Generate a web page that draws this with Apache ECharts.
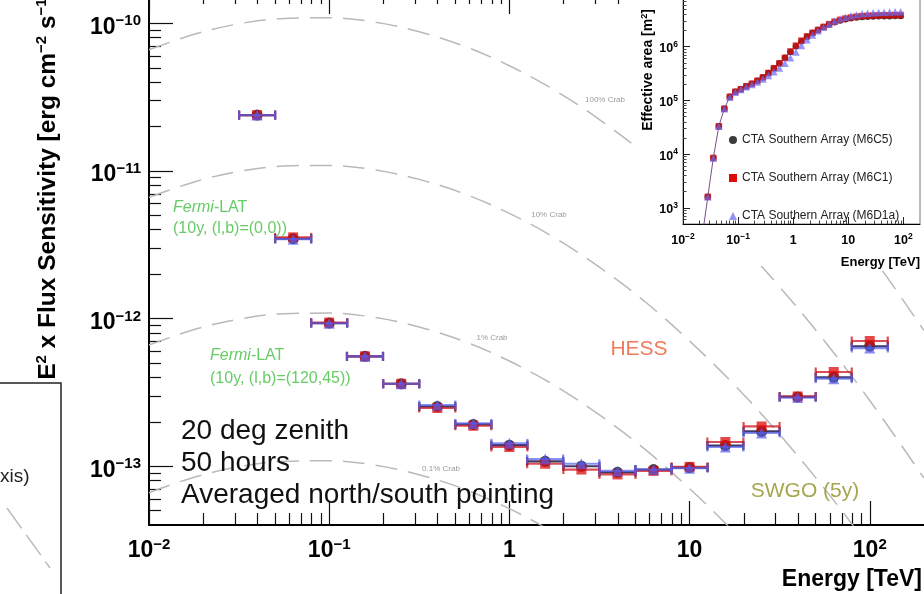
<!DOCTYPE html>
<html>
<head>
<meta charset="utf-8">
<script src="https://cdn.jsdelivr.net/npm/echarts@6/dist/echarts.min.js"></script>
<style>
  html, body { margin: 0; padding: 0; background: #fff; }
  #chart { width: 924px; height: 594px; }
</style>
</head>
<body>
<div id="chart"></div>
<script>
// ---------- Sensitivity curves (main panel) ----------
const sensEnergy = [0.0398, 0.0631, 0.1, 0.158, 0.251, 0.398, 0.631, 1.0, 1.58, 2.51, 3.98, 6.31, 10.0, 15.8, 25.1, 39.8, 63.1, 100];
const sensM6C5  = [2.39e-11, 3.48e-12, 9.33e-13, 5.55e-13, 3.62e-13, 2.54e-13, 1.92e-13, 1.39e-13, 1.08e-13, 1.0e-13, 9.1e-14, 9.5e-14, 9.8e-14, 1.38e-13, 1.72e-13, 2.95e-13, 4.0e-13, 6.5e-13];
const sensM6C1  = [2.39e-11, 3.55e-12, 9.4e-13, 5.55e-13, 3.62e-13, 2.48e-13, 1.88e-13, 1.35e-13, 1.04e-13, 9.5e-14, 8.8e-14, 9.3e-14, 9.9e-14, 1.46e-13, 1.86e-13, 2.97e-13, 4.35e-13, 7.05e-13];
const sensM6D1a = [2.39e-11, 3.45e-12, 9.3e-13, 5.55e-13, 3.62e-13, 2.6e-13, 1.95e-13, 1.43e-13, 1.12e-13, 1.04e-13, 9.3e-14, 9.5e-14, 9.7e-14, 1.35e-13, 1.68e-13, 2.92e-13, 3.92e-13, 6.32e-13];
const binHalfWidthDex = 0.1;

// Crab spectrum (E^2 dN/dE, erg cm^-2 s^-1) and the fractions drawn
const crabEnergy = [0.01, 0.0178, 0.0316, 0.0562, 0.1, 0.178, 0.316, 0.562, 1, 1.78, 3.16, 5.62, 10, 17.8, 31.6, 56.2, 100, 200];
const crabFlux   = [6.62e-11, 8.43e-11, 9.93e-11, 1.08e-10, 1.09e-10, 1.02e-10, 8.77e-11, 7.0e-11, 5.16e-11, 3.53e-11, 2.23e-11, 1.31e-11, 7.06e-12, 3.54e-12, 1.64e-12, 7.03e-13, 2.79e-13, 8.3e-14];
const crabFractions = [10, 1, 0.1, 0.01, 0.001];
const crabLabels = ['1000% Crab', '100% Crab', '10% Crab', '1% Crab', '0.1% Crab'];

// ---------- Effective area (inset) ----------
const aeffEnergy = [0.0224, 0.0282, 0.0355, 0.0447, 0.0562, 0.0708, 0.0891, 0.112, 0.141, 0.178, 0.224, 0.282, 0.355, 0.447, 0.562, 0.708, 0.891, 1.12, 1.41, 1.78, 2.24, 2.82, 3.55, 4.47, 5.62, 7.08, 8.91, 11.2, 14.1, 17.8, 22.4, 28.2, 35.5, 44.7, 56.2, 70.8, 89.1];
const aeffM6C5  = [300, 1.6e3, 8.5e3, 3.3e4, 7.0e4, 1.17e5, 1.45e5, 1.62e5, 1.84e5, 2.04e5, 2.32e5, 2.69e5, 3.24e5, 3.98e5, 4.9e5, 6.2e5, 8.0e5, 1.02e6, 1.27e6, 1.53e6, 1.8e6, 2.05e6, 2.34e6, 2.6e6, 2.86e6, 3.08e6, 3.26e6, 3.4e6, 3.5e6, 3.58e6, 3.62e6, 3.65e6, 3.68e6, 3.7e6, 3.71e6, 3.72e6, 3.73e6];
const aeffM6C1  = [300, 1.6e3, 8.5e3, 3.3e4, 7.0e4, 1.17e5, 1.45e5, 1.62e5, 1.84e5, 2.04e5, 2.32e5, 2.69e5, 3.24e5, 3.98e5, 4.9e5, 6.2e5, 8.2e5, 1.05e6, 1.3e6, 1.56e6, 1.82e6, 2.06e6, 2.34e6, 2.63e6, 2.92e6, 3.16e6, 3.35e6, 3.5e6, 3.63e6, 3.72e6, 3.76e6, 3.8e6, 3.83e6, 3.85e6, 3.86e6, 3.87e6, 3.89e6];
const aeffM6D1a = [300, 1.6e3, 8.5e3, 3.3e4, 7.0e4, 1.15e5, 1.42e5, 1.6e5, 1.8e5, 1.98e5, 2.2e5, 2.5e5, 2.9e5, 3.4e5, 4.0e5, 4.9e5, 6.2e5, 8.0e5, 1.05e6, 1.35e6, 1.65e6, 1.98e6, 2.3e6, 2.65e6, 3.0e6, 3.3e6, 3.55e6, 3.78e6, 3.95e6, 4.1e6, 4.2e6, 4.3e6, 4.35e6, 4.4e6, 4.45e6, 4.48e6, 4.5e6];

// ---------- Tick values ----------
const energyMajor = [0.01, 0.1, 1, 10, 100];
const energyMinor = [0.02,0.03,0.04,0.05,0.06,0.07,0.08,0.09, 0.2,0.3,0.4,0.5,0.6,0.7,0.8,0.9, 2,3,4,5,6,7,8,9, 20,30,40,50,60,70,80,90];
const fluxMajor = [1e-13, 1e-12, 1e-11, 1e-10];
const fluxMinor = [5e-14,6e-14,7e-14,8e-14,9e-14, 2e-13,3e-13,4e-13,5e-13,6e-13,7e-13,8e-13,9e-13, 2e-12,3e-12,4e-12,5e-12,6e-12,7e-12,8e-12,9e-12, 2e-11,3e-11,4e-11,5e-11,6e-11,7e-11,8e-11,9e-11];
const areaMajor = [1e3, 1e4, 1e5, 1e6];
const areaMinor = [600,700,800,900, 2e3,3e3,4e3,5e3,6e3,7e3,8e3,9e3, 2e4,3e4,4e4,5e4,6e4,7e4,8e4,9e4, 2e5,3e5,4e5,5e5,6e5,7e5,8e5,9e5, 2e6,3e6,4e6,5e6,6e6,7e6,8e6,9e6];

const FONT = '"Liberation Sans", Arial, Helvetica, sans-serif';
const NAMES = ['CTA Southern Array (M6C5)', 'CTA Southern Array (M6C1)', 'CTA Southern Array (M6D1a)'];

function powLabel(alwaysPow) {
  return function (v) {
    const e = Math.round(Math.log10(v));
    if (!alwaysPow && e === 0) return '{b|1}';
    if (!alwaysPow && e === 1) return '{b|10}';
    return '{b|10}{s|' + (e < 0 ? '\u2212' : '') + Math.abs(e) + '}';
  };
}
function richFor(base, sup) {
  return {
    b: { fontSize: base, fontWeight: 'bold', fontFamily: FONT, color: '#000', lineHeight: base + 4 },
    s: { fontSize: sup, fontWeight: 'bold', fontFamily: FONT, color: '#000', lineHeight: sup, padding: [0, 0, base + 4 - sup, 0] }
  };
}

function logAxis(o) {
  return Object.assign({
    type: 'log', logBase: 10, splitLine: { show: false }, axisPointer: { show: false }
  }, o);
}

const MAIN = { x: [0.01, 200], y: [4e-14, 1.63e-10] };
const INSET = { x: [0.01, 200], y: [500, 1e7] };

function tickAxis(grid, range, pos, values, len, color, z) {
  return logAxis({
    gridIndex: grid, min: range[0], max: range[1], position: pos, z: z || 0,
    axisLine: { show: false },
    axisTick: { show: true, inside: true, length: len, customValues: values, lineStyle: { color: color, width: grid === 0 ? 1.2 : 1 } },
    axisLabel: { show: false }
  });
}

const xAxes = [
  // main panel
  logAxis({ gridIndex: 0, min: MAIN.x[0], max: MAIN.x[1], position: 'bottom',
    axisLine: { lineStyle: { color: '#000', width: 2 } },
    axisTick: { inside: true, length: 24, customValues: energyMajor, lineStyle: { color: '#111', width: 1.2 } },
    axisLabel: { customValues: energyMajor, formatter: powLabel(false), rich: richFor(23, 15), margin: 12 } }),
  tickAxis(0, MAIN.x, 'bottom', energyMinor, 12, '#111'),
  logAxis({ gridIndex: 0, min: MAIN.x[0], max: MAIN.x[1], position: 'top',
    axisLine: { show: true, lineStyle: { color: '#000', width: 2 } },
    axisTick: { inside: true, length: 22, customValues: energyMajor, lineStyle: { color: '#111', width: 1.2 } },
    axisLabel: { show: false } }),
  tickAxis(0, MAIN.x, 'top', energyMinor, 12, '#111'),
  // inset
  logAxis({ gridIndex: 1, min: INSET.x[0], max: INSET.x[1], position: 'bottom', z: 10,
    axisLine: { lineStyle: { color: '#000', width: 1 } },
    axisTick: { inside: true, length: 7, customValues: energyMajor, lineStyle: { color: '#222', width: 1 } },
    axisLabel: { customValues: energyMajor, formatter: powLabel(false), rich: richFor(12.5, 8.5), margin: 8 } }),
  tickAxis(1, INSET.x, 'bottom', energyMinor, 3.5, '#444', 10),
  tickAxis(1, INSET.x, 'top', energyMajor, 7, '#777', 10),
  tickAxis(1, INSET.x, 'top', energyMinor, 3.5, '#999', 10)
];

const yAxes = [
  logAxis({ gridIndex: 0, min: MAIN.y[0], max: MAIN.y[1], position: 'left',
    axisLine: { lineStyle: { color: '#000', width: 2 } },
    axisTick: { inside: true, length: 24, customValues: fluxMajor, lineStyle: { color: '#111', width: 1.2 } },
    axisLabel: { customValues: fluxMajor, formatter: powLabel(true), rich: richFor(23, 15), margin: 8, padding: [8, 0, 0, 0] } }),
  tickAxis(0, MAIN.y, 'left', fluxMinor, 12, '#111'),
  logAxis({ gridIndex: 1, min: INSET.y[0], max: INSET.y[1], position: 'left', z: 10,
    axisLine: { lineStyle: { color: '#000', width: 1 } },
    axisTick: { inside: true, length: 7, customValues: areaMajor, lineStyle: { color: '#222', width: 1 } },
    axisLabel: { customValues: areaMajor, formatter: powLabel(true), rich: richFor(12.5, 8.5), margin: 5, padding: [4, 0, 0, 0] } }),
  tickAxis(1, INSET.y, 'left', areaMinor, 3.5, '#444', 10)
];

// horizontal error bars with end caps
function errorBarSeries(name, values, color, z) {
  return {
    name: name, type: 'custom', xAxisIndex: 0, yAxisIndex: 0, z: z, silent: true,
    data: sensEnergy.map((e, i) => [e, values[i]]),
    renderItem: function (params, api) {
      const e = api.value(0), f = api.value(1);
      const k = Math.pow(10, binHalfWidthDex);
      const a = api.coord([e / k, f]);
      const b = api.coord([e * k, f]);
      const st = { stroke: color, lineWidth: 2.2 };
      return { type: 'group', children: [
        { type: 'line', shape: { x1: a[0], y1: a[1], x2: b[0], y2: b[1] }, style: st },
        { type: 'line', shape: { x1: a[0], y1: a[1] - 4.5, x2: a[0], y2: a[1] + 4.5 }, style: st },
        { type: 'line', shape: { x1: b[0], y1: b[1] - 4.5, x2: b[0], y2: b[1] + 4.5 }, style: st }
      ] };
    }
  };
}
function markerSeries(name, values, symbol, size, color, opacity, z) {
  return {
    name: name, type: 'scatter', xAxisIndex: 0, yAxisIndex: 0, z: z, silent: true,
    symbol: symbol, symbolSize: size,
    itemStyle: { color: color, opacity: opacity },
    data: sensEnergy.map((e, i) => [e, values[i]])
  };
}

const crabSeries = crabFractions.map((frac, j) => ({
  name: crabLabels[j], type: 'line', xAxisIndex: 0, yAxisIndex: 0, z: 1, silent: true,
  showSymbol: false, smooth: 0.35, clip: true,
  lineStyle: { color: '#b9b9b9', width: 1.5, type: [22, 11] },
  data: crabEnergy.map((e, i) => [e, crabFlux[i] * frac])
}));

function aeffSeries(name, values, symbol, size, color, opacity, withLine) {
  return {
    name: name, type: 'line', xAxisIndex: 4, yAxisIndex: 2, z: 11, silent: true, clip: true,
    symbol: symbol, symbolSize: size, showSymbol: true,
    itemStyle: { color: color, opacity: opacity },
    lineStyle: withLine ? { color: '#7a4f8c', width: 1 } : { width: 0, opacity: 0 },
    data: aeffEnergy.map((e, i) => [e, values[i]])
  };
}

const series = [].concat(
  crabSeries,
  [
    errorBarSeries(NAMES[0], sensM6C5, 'rgba(40,35,90,0.9)', 3),
    markerSeries(NAMES[0], sensM6C5, 'circle', 11, '#3a3a3a', 1, 3),
    errorBarSeries(NAMES[1], sensM6C1, 'rgba(205,20,30,0.75)', 4),
    markerSeries(NAMES[1], sensM6C1, 'rect', 10, '#dd0a0a', 0.75, 4),
    errorBarSeries(NAMES[2], sensM6D1a, 'rgba(85,95,235,0.7)', 5),
    markerSeries(NAMES[2], sensM6D1a, 'triangle', 11, '#5a5af0', 0.7, 5),
    aeffSeries(NAMES[0], aeffM6C5, 'circle', 6.5, '#3a3a3a', 1, true),
    aeffSeries(NAMES[1], aeffM6C1, 'rect', 6.5, '#dd0a0a', 0.75, false),
    aeffSeries(NAMES[2], aeffM6D1a, 'triangle', 7.5, '#6a6af5', 0.7, false)
  ]
);

function txt(x, y, text, font, color, align) {
  return {
    type: 'text', x: x, y: y, z: 6, silent: true,
    style: { text: text, font: font, fill: color, textAlign: align || 'left', textVerticalAlign: 'middle' }
  };
}

const green = '#66cc66';
const graphics = [
  // inset pad background
  { type: 'rect', z: 3, silent: true, shape: { x: 632, y: 0, width: 292, height: 266 }, style: { fill: '#fff' } },
  // neighbouring panel edge on the left
  { type: 'polyline', z: 6, silent: true, shape: { points: [[0, 383], [61, 383], [61, 594]] }, style: { stroke: '#222', lineWidth: 1.5, fill: null } },
  { type: 'line', z: 6, silent: true, shape: { x1: 7, y1: 508, x2: 50, y2: 568 }, style: { stroke: '#bbb', lineWidth: 1.5, lineDash: [25, 8] } },
  txt(0, 477, 'xis)', '19px ' + FONT, '#222'),
  // axis titles
  { type: 'text', z: 6, silent: true, x: 48, y: 185, rotation: Math.PI / 2,
    style: { text: '{t|E}{s|2}{t| x Flux Sensitivity [erg cm}{s|\u22122}{t| s}{s|\u22121}{t|]}', textAlign: 'center', textVerticalAlign: 'middle',
      rich: { t: { font: 'bold 24.5px ' + FONT, fill: '#000', lineHeight: 28 }, s: { font: 'bold 15px ' + FONT, fill: '#000', lineHeight: 15, padding: [0, 0, 13, 0] } } } },
  txt(922, 580, 'Energy [TeV]', 'bold 23px ' + FONT, '#000', 'right'),
  // inset titles
  { type: 'text', z: 12, silent: true, x: 648, y: 70, rotation: Math.PI / 2,
    style: { text: '{t|Effective area [m}{s|2}{t|]}', textAlign: 'center', textVerticalAlign: 'middle',
      rich: { t: { font: 'bold 14px ' + FONT, fill: '#000', lineHeight: 16 }, s: { font: 'bold 9px ' + FONT, fill: '#000', lineHeight: 9, padding: [0, 0, 7, 0] } } } },
  txt(920, 262, 'Energy [TeV]', 'bold 13px ' + FONT, '#000', 'right'),
  // crab fraction labels
  txt(605, 100, '100% Crab', '8px ' + FONT, '#9a9a9a', 'center'),
  txt(549, 215, '10% Crab', '8px ' + FONT, '#9a9a9a', 'center'),
  txt(492, 338, '1% Crab', '8px ' + FONT, '#9a9a9a', 'center'),
  txt(441, 469, '0.1% Crab', '8px ' + FONT, '#9a9a9a', 'center'),
  // instrument labels
  { type: 'text', z: 6, silent: true, x: 173, y: 208, style: { text: '{i|Fermi}{n|-LAT}', textVerticalAlign: 'middle',
      rich: { i: { font: 'italic 16px ' + FONT, fill: green }, n: { font: '16px ' + FONT, fill: green } } } },
  txt(173, 229, '(10y, (l,b)=(0,0))', '16px ' + FONT, green),
  { type: 'text', z: 6, silent: true, x: 210, y: 356, style: { text: '{i|Fermi}{n|-LAT}', textVerticalAlign: 'middle',
      rich: { i: { font: 'italic 16px ' + FONT, fill: green }, n: { font: '16px ' + FONT, fill: green } } } },
  txt(210, 379, '(10y, (l,b)=(120,45))', '16px ' + FONT, green),
  txt(639, 349, 'HESS', '21px ' + FONT, '#f07a5a', 'center'),
  txt(805, 491, 'SWGO (5y)', '21px ' + FONT, '#a6a650', 'center'),
  txt(181, 431, '20 deg zenith', '28px ' + FONT, '#111'),
  txt(181, 463, '50 hours', '28px ' + FONT, '#111'),
  txt(181, 495, 'Averaged north/south pointing', '28px ' + FONT, '#111')
];

const chart = echarts.init(document.getElementById('chart'), null, { renderer: 'canvas' });
chart.setOption({
  animation: false,
  backgroundColor: '#fff',
  textStyle: { fontFamily: FONT },
  grid: [
    { left: 149, top: -8, width: 775, height: 533, containLabel: false, outerBoundsMode: 'none' },
    { left: 683, top: -7, width: 237, height: 231, containLabel: false, outerBoundsMode: 'none',
      show: true, borderColor: '#777', borderWidth: 1, backgroundColor: 'transparent', z: 10 }
  ],
  xAxis: xAxes,
  yAxis: yAxes,
  legend: {
    left: 724, top: 129, orient: 'vertical', itemGap: 26, itemWidth: 8, itemHeight: 8, z: 12,
    selectedMode: false,
    textStyle: { fontSize: 12, color: '#222', fontFamily: FONT },
    data: [
      { name: NAMES[0], icon: 'circle', itemStyle: { color: '#3a3a3a', opacity: 1 } },
      { name: NAMES[1], icon: 'rect', itemStyle: { color: '#dd0a0a', opacity: 1 } },
      { name: NAMES[2], icon: 'triangle', itemStyle: { color: '#7777f0', opacity: 0.8 } }
    ]
  },
  graphic: graphics,
  series: series
});
</script>
</body>
</html>
